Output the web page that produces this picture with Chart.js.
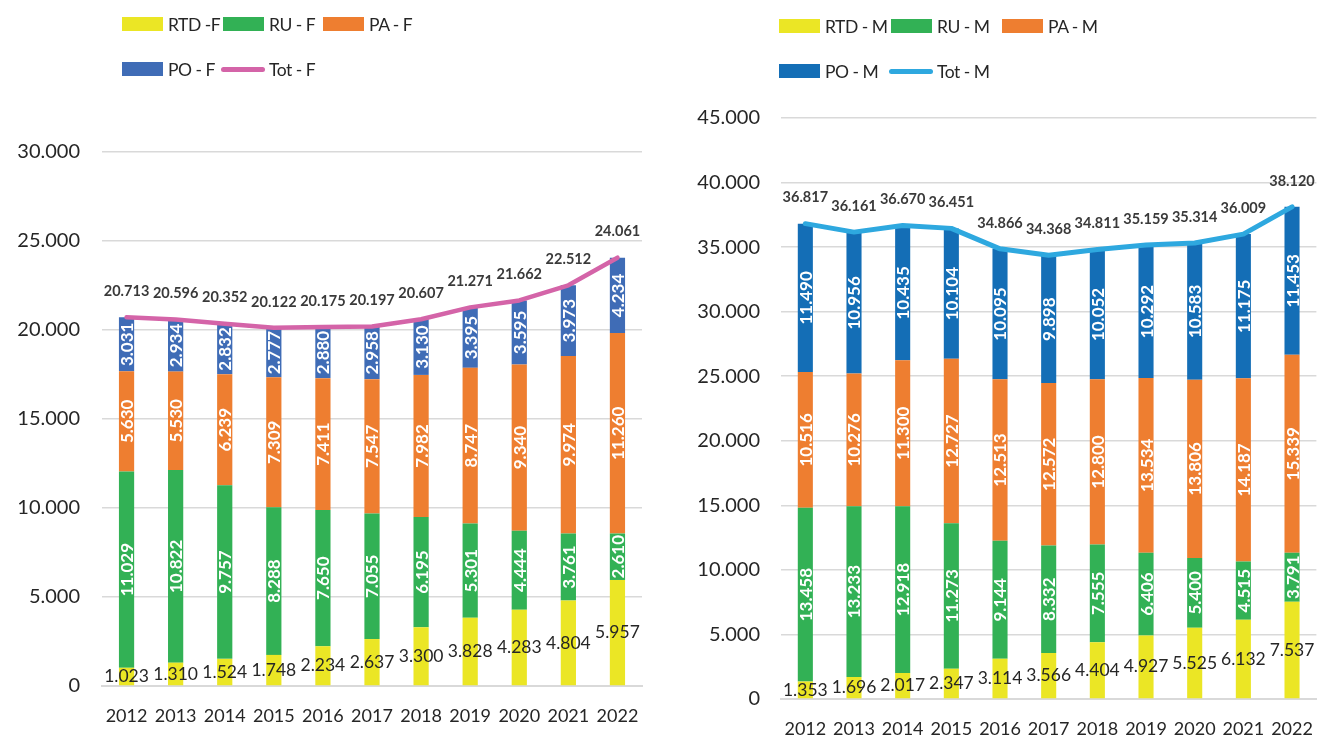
<!DOCTYPE html>
<html>
<head>
<meta charset="utf-8">
<script src="https://cdn.jsdelivr.net/npm/chart.js@4/dist/chart.umd.min.js"></script>
<style>
  html,body{margin:0;padding:0;background:#fff;}
  body{width:1324px;height:735px;position:relative;overflow:hidden;font-family:Lato,"Open Sans",sans-serif;}
  .wrap{position:absolute;top:0;}
  .leg{position:absolute;display:flex;align-items:center;font-size:17.5px;letter-spacing:-0.5px;color:#262626;white-space:nowrap;}
  .sw{display:inline-block;width:41px;height:14px;margin-right:5px;}
  .ln{display:inline-block;width:44px;height:5px;border-radius:3px;margin-right:4px;}
</style>
</head>
<body>
<div class="wrap" style="left:0;width:660px;height:735px;"><canvas id="cF" width="660" height="735"></canvas></div>
<div class="wrap" style="left:660px;width:664px;height:735px;"><canvas id="cM" width="664" height="735"></canvas></div>
<div id="legF"></div>
<div id="legM"></div>
<script>
// ---- data ----
const years = ["2012","2013","2014","2015","2016","2017","2018","2019","2020","2021","2022"];

const rtdF = [1023,1310,1524,1748,2234,2637,3300,3828,4283,4804,5957];
const ruF  = [11029,10822,9757,8288,7650,7055,6195,5301,4444,3761,2610];
const paF  = [5630,5530,6239,7309,7411,7547,7982,8747,9340,9974,11260];
const poF  = [3031,2934,2832,2777,2880,2958,3130,3395,3595,3973,4234];
const totF = [20713,20596,20352,20122,20175,20197,20607,21271,21662,22512,24061];

const rtdM = [1353,1696,2017,2347,3114,3566,4404,4927,5525,6132,7537];
const ruM  = [13458,13233,12918,11273,9144,8332,7555,6406,5400,4515,3791];
const paM  = [10516,10276,11300,12727,12513,12572,12800,13534,13806,14187,15339];
const poM  = [11490,10956,10435,10104,10095,9898,10052,10292,10583,11175,11453];
const totM = [36817,36161,36670,36451,34866,34368,34811,35159,35314,36009,38120];

const labelsF = ["RTD -F","RU - F","PA - F","PO - F","Tot - F"];
const labelsM = ["RTD - M","RU - M","PA - M","PO - M","Tot - M"];

const ticksF = [0,5000,10000,15000,20000,25000,30000];
const ticksM = [0,5000,10000,15000,20000,25000,30000,35000,40000,45000];

// ---- styles ----
const YELLOW="#EBE625", GREEN="#32B155", ORANGE="#EE7E30", BLUE_F="#3F6CB6", BLUE_M="#146EB6", PINK="#D464A8", SKY="#2EA8DF";
const FONT = "Lato";

function fmt(n){ return String(n).replace(/\B(?=(\d{3})+(?!\d))/g, "."); }

const valuePlugin = {
  id:"vals",
  afterDatasetsDraw(chart){
    const ctx = chart.ctx;
    chart.data.datasets.forEach((ds,i)=>{
      const meta = chart.getDatasetMeta(i);
      meta.data.forEach((el,j)=>{
        const txt = fmt(ds.data[j]);
        ctx.save();
        ctx.textAlign="center"; ctx.textBaseline="middle";
        if(ds.type==="line"){
          ctx.font = "bold 14.5px "+FONT; ctx.fillStyle="#3A3A3A";
          ctx.fillText(txt, el.x, el.y-26);
        } else if(i===0){
          ctx.font = "17.5px "+FONT; ctx.fillStyle="#262626";
          ctx.fillText(txt, el.x, (el.y+el.base)/2);
        } else {
          ctx.font = "bold 17px "+FONT; ctx.fillStyle="#ffffff";
          ctx.translate(el.x, (el.y+el.base)/2);
          ctx.rotate(-Math.PI/2);
          ctx.fillText(txt, 0, 1);
        }
        ctx.restore();
      });
    });
  }
};

function makeChart(id, series, labels, colors, tot, lineColor, yMax, ticks, cfg){
  const datasets = series.map((d,k)=>({
    type:"bar", label:labels[k], data:d, backgroundColor:colors[k], borderWidth:0,
    stack:"s", order:1, barPercentage:0.31, categoryPercentage:1
  }));
  datasets.push({
    type:"line", label:labels[4], data:tot, borderColor:lineColor, backgroundColor:lineColor,
    borderWidth:cfg.lw, pointRadius:0, tension:0, stack:"tot", order:0, borderCapStyle:"round", borderJoinStyle:"round"
  });
  return new Chart(document.getElementById(id), {
    data:{labels:years, datasets},
    options:{
      responsive:false, animation:false,
      layout:{padding:{left:0,right:cfg.right,top:cfg.top,bottom:0}},
      plugins:{legend:{display:false}, tooltip:{enabled:false}},
      scales:{
        x:{stacked:true, grid:{display:false},
           border:{display:true,color:"#D9D9D9",width:2},
           ticks:{font:{family:FONT,size:18},color:"#262626",padding:cfg.xpad,maxRotation:0},
           afterFit(s){ s.height = cfg.xh; }},
        y:{stacked:true, min:0, max:yMax,
           afterBuildTicks(s){ s.ticks = ticks.map(v=>({value:v})); },
           grid:{color:"#D9D9D9",lineWidth:1.5,drawTicks:false},
           border:{display:false},
           ticks:{font:{family:FONT,size:20},color:"#262626",padding:cfg.ypad,callback:v=>fmt(v)},
           afterFit(s){ s.width = cfg.yw; }}
      }
    },
    plugins:[valuePlugin]
  });
}

makeChart("cF",[rtdF,ruF,paF,poF],labelsF,[YELLOW,GREEN,ORANGE,BLUE_F],totF,PINK,30000,ticksF,
  {lw:4.5,right:18,top:152,xh:49,xpad:11,ypad:22,yw:102});
makeChart("cM",[rtdM,ruM,paM,poM],labelsM,[YELLOW,GREEN,ORANGE,BLUE_M],totM,SKY,45000,ticksM,
  {lw:5,right:2,top:118,xh:36,xpad:11,ypad:21,yw:121});

// ---- legends (HTML) ----
function legend(rootId, labels, colors, pos){
  const root = document.getElementById(rootId);
  labels.forEach((lab,k)=>{
    const p = pos[k];
    const d = document.createElement("div");
    d.className="leg";
    d.style.left=p[0]+"px"; d.style.top=(p[1]-12)+"px"; d.style.height="24px";
    const s = document.createElement("span");
    s.className = k===4 ? "ln" : "sw";
    s.style.background = colors[k];
    const t = document.createElement("span");
    t.textContent = lab;
    d.appendChild(s); d.appendChild(t);
    root.appendChild(d);
  });
}
legend("legF", labelsF, [YELLOW,GREEN,ORANGE,BLUE_F,PINK],
  [[122,24],[223,24],[323,24],[122,69],[221,69]]);
legend("legM", labelsM, [YELLOW,GREEN,ORANGE,BLUE_M,SKY],
  [[779,26],[891,26],[1002,26],[779,71],[889,71]]);
</script>
</body>
</html>
